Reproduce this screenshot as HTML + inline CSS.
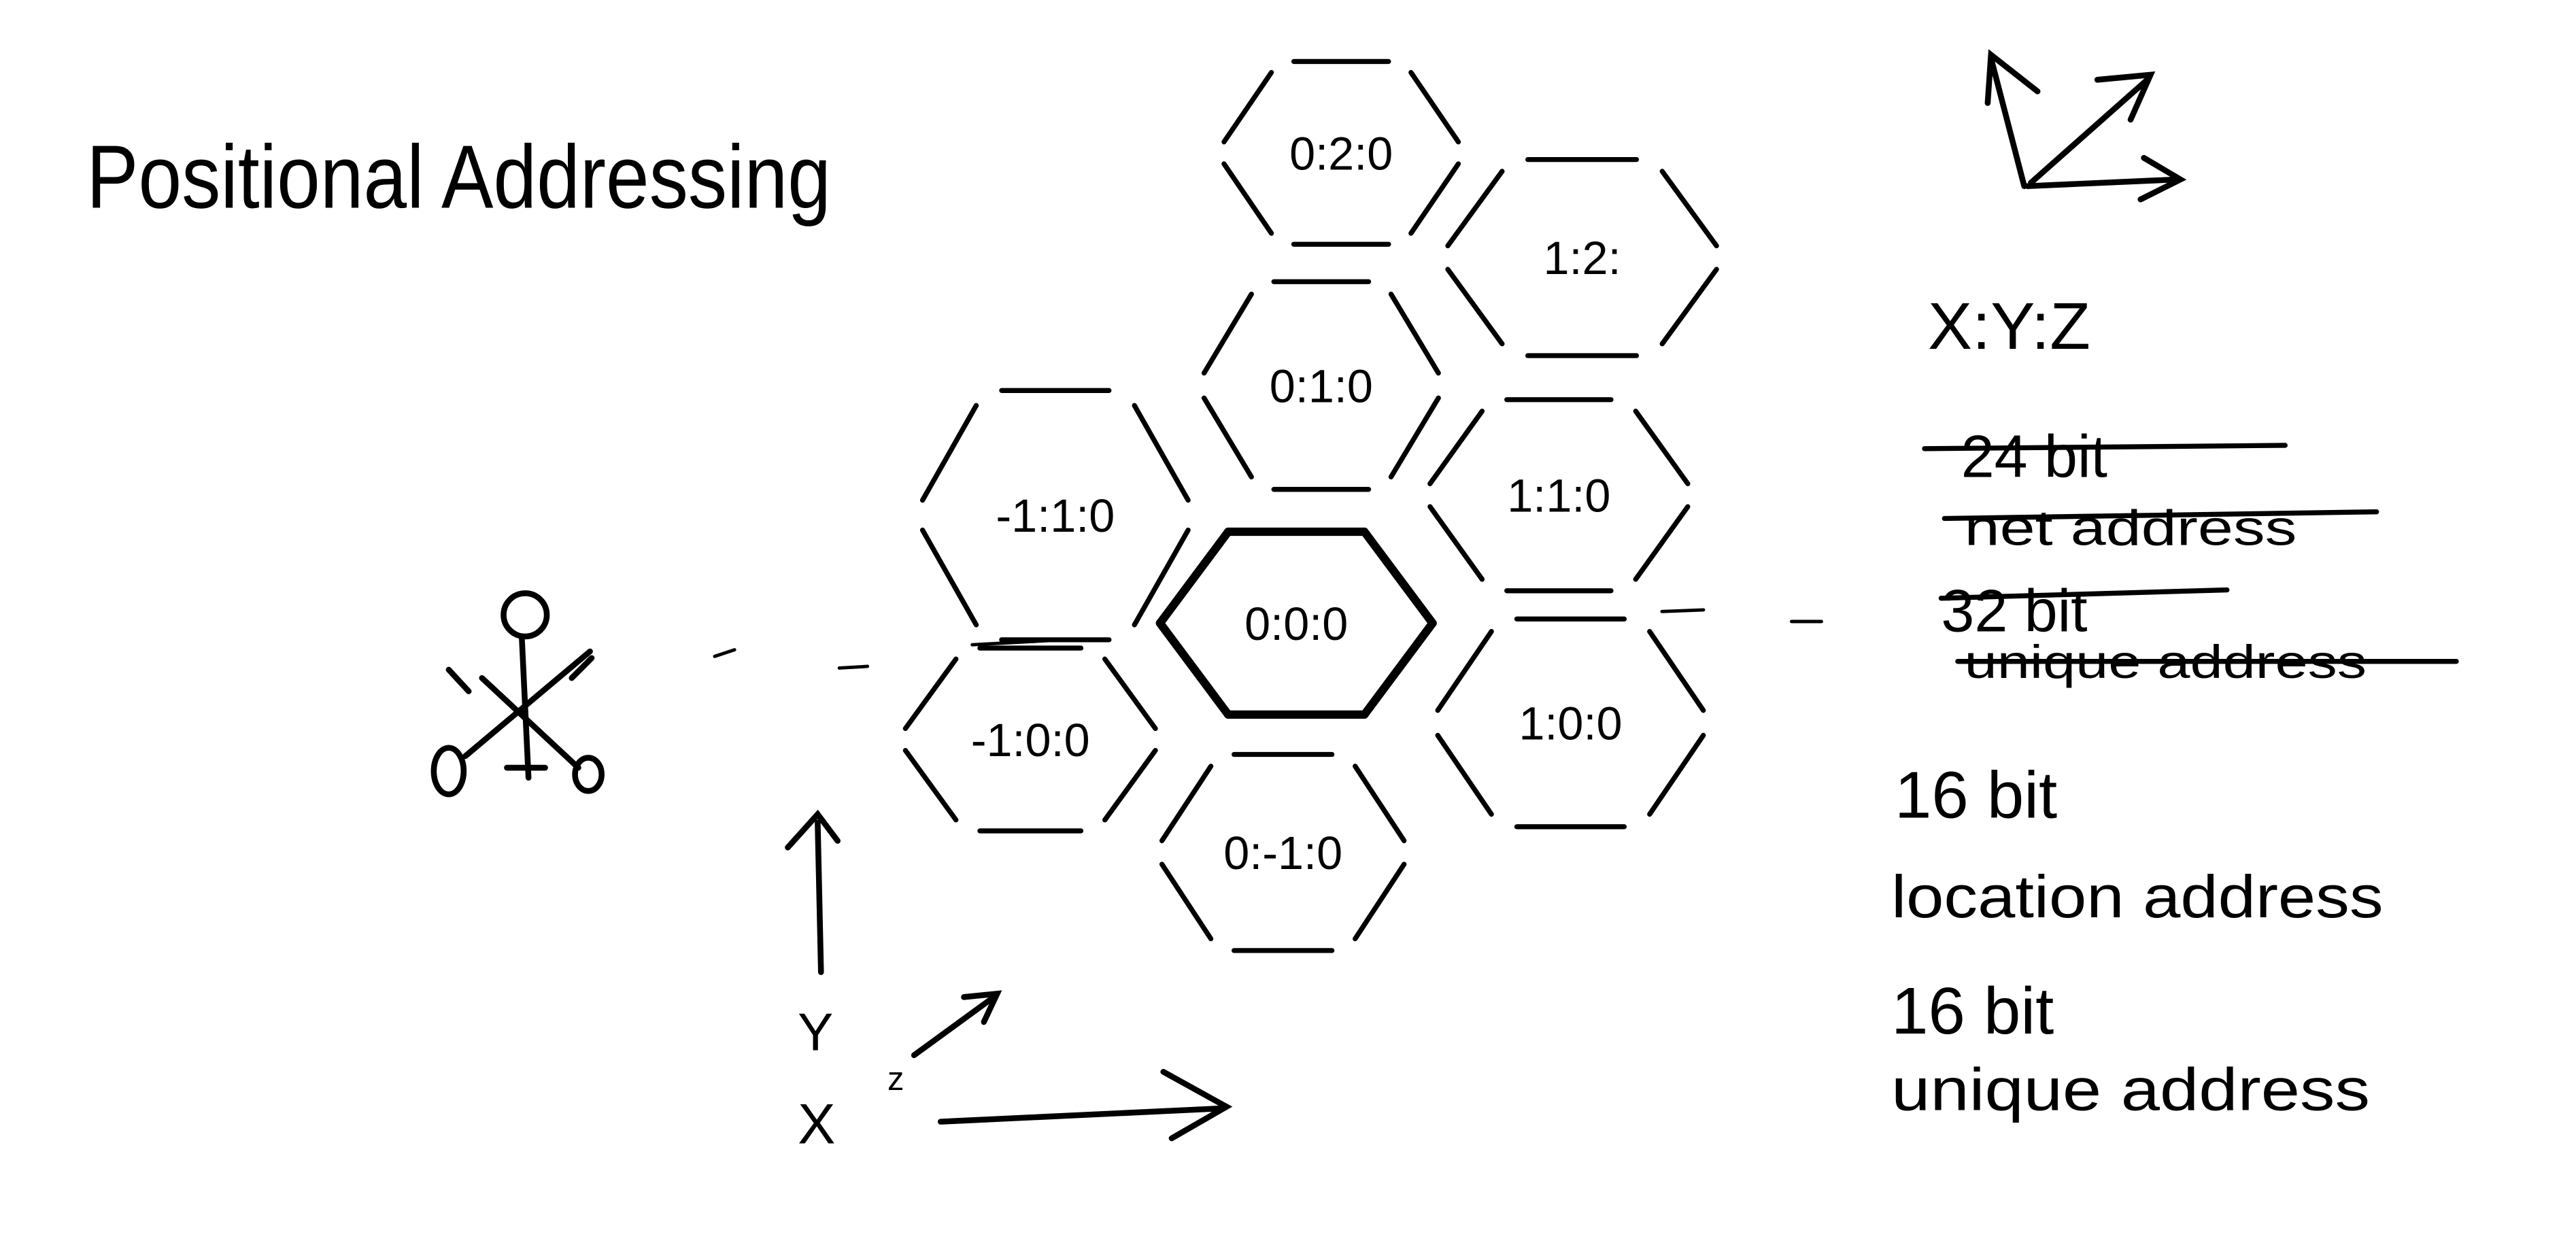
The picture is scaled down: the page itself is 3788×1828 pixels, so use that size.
<!DOCTYPE html>
<html>
<head>
<meta charset="utf-8">
<style>
html,body{margin:0;padding:0;background:#fff;}
svg{display:block;}
text{font-family:"Liberation Sans",sans-serif;fill:#000;}
</style>
</head>
<body>
<svg id="sk" width="3788" height="1828" viewBox="0 0 1550 748" xmlns="http://www.w3.org/2000/svg">
  <rect x="0" y="0" width="1550" height="748" fill="#fff"/>
  <text x="52" y="125" font-size="54" textLength="448" lengthAdjust="spacingAndGlyphs">Positional Addressing</text>

  <g id="hexes" stroke="#000" stroke-width="3" fill="none" stroke-linecap="round"></g>

  <g stroke="#000" stroke-width="2" stroke-linecap="round">
    <line x1="430" y1="395" x2="442" y2="391"/>
    <line x1="505" y1="402" x2="522" y2="401"/>
    <line x1="585" y1="388" x2="640" y2="385"/>
    <line x1="1000" y1="368" x2="1025" y2="367"/>
    <line x1="1078" y1="374" x2="1096" y2="374"/>
  </g>

  <g stroke="#000" stroke-width="3.5" fill="none" stroke-linecap="round">
    <circle cx="316" cy="370" r="13"/>
    <line x1="314" y1="384" x2="318" y2="468"/>
    <line x1="280" y1="455" x2="355" y2="392"/>
    <line x1="290" y1="408" x2="348" y2="462"/>
    <line x1="270" y1="403" x2="282" y2="416"/>
    <line x1="344" y1="408" x2="356" y2="396"/>
    <ellipse cx="270" cy="464" rx="9" ry="14"/>
    <ellipse cx="354" cy="466" rx="8" ry="10"/>
    <line x1="305" y1="462" x2="328" y2="462"/>
  </g>

  <g stroke="#000" stroke-width="3.5" fill="none" stroke-linecap="round">
    <line x1="494" y1="585" x2="492" y2="495"/>
    <polyline points="474,510 492,490 504,506"/>
    <line x1="566" y1="675" x2="735" y2="667"/>
    <polyline points="700,645 738,666 705,685"/>
    <line x1="550" y1="635" x2="598" y2="600"/>
    <polyline points="580,600 600,598 592,615"/>
    <line x1="1218" y1="112" x2="1198" y2="35"/>
    <polyline points="1196,62 1198,33 1226,55"/>
    <line x1="1220" y1="112" x2="1310" y2="108"/>
    <polyline points="1290,95 1312,108 1288,120"/>
    <line x1="1222" y1="110" x2="1292" y2="48"/>
    <polyline points="1262,48 1294,45 1282,72"/>
  </g>
  <text x="480" y="632" font-size="32">Y</text>
  <text x="480" y="688" font-size="34">X</text>
  <text x="534" y="656" font-size="20">z</text>

  <text x="1160" y="210" font-size="40">X:Y:Z</text>
  <g>
    <text x="1180" y="287" font-size="36">24 bit</text>
    <text x="1182" y="328" font-size="30" textLength="200" lengthAdjust="spacingAndGlyphs">net address</text>
    <text x="1168" y="380" font-size="36">32 bit</text>
    <text x="1182" y="408" font-size="28" textLength="242" lengthAdjust="spacingAndGlyphs">unique address</text>
  </g>
  <g stroke="#000" stroke-width="3" stroke-linecap="round">
    <line x1="1158" y1="270" x2="1375" y2="268"/>
    <line x1="1170" y1="312" x2="1430" y2="308"/>
    <line x1="1168" y1="360" x2="1340" y2="355"/>
    <line x1="1178" y1="398" x2="1478" y2="398"/>
  </g>
  <text x="1140" y="492" font-size="40">16  bit</text>
  <text x="1138" y="552" font-size="36" textLength="296" lengthAdjust="spacingAndGlyphs">location address</text>
  <text x="1138" y="622" font-size="40">16  bit</text>
  <text x="1138" y="668" font-size="36" textLength="288" lengthAdjust="spacingAndGlyphs">unique address</text>
</svg>
<script>
const hexLabels = ["0:2:0","1:2:","0:1:0","-1:1:0","1:1:0","0:0:0","-1:0:0","1:0:0","0:-1:0"];
const hexCx = [807, 952, 795, 635, 938, 780, 620, 945, 772];
const hexCy = [92, 155, 232, 310, 298, 375, 445, 435, 513];
const hexW = [150, 172, 150, 170, 165, 164, 160, 170, 155];
const hexH = [110, 118, 125, 150, 115, 110, 110, 125, 118];
const hexBold = [0,0,0,0,0,1,0,0,0];

const NS = "http://www.w3.org/2000/svg";
const g = document.getElementById("hexes");
const svg = document.getElementById("sk");
for (let i = 0; i < hexLabels.length; i++) {
  const cx = hexCx[i], cy = hexCy[i], w = hexW[i], h = hexH[i];
  const pts = [[cx - w/2, cy],[cx - w/4, cy - h/2],[cx + w/4, cy - h/2],[cx + w/2, cy],[cx + w/4, cy + h/2],[cx - w/4, cy + h/2]];
  const grp = document.createElementNS(NS, "g");
  
  
  const gap = hexBold[i] ? 0 : 0.12;
  for (let k = 0; k < 6; k++) {
    const a = pts[k], b = pts[(k + 1) % 6];
    const ln = document.createElementNS(NS, "line");
    ln.setAttribute("x1", a[0] + (b[0] - a[0]) * gap);
    ln.setAttribute("y1", a[1] + (b[1] - a[1]) * gap);
    ln.setAttribute("x2", b[0] - (b[0] - a[0]) * gap);
    ln.setAttribute("y2", b[1] - (b[1] - a[1]) * gap);
    if (hexBold[i]) ln.setAttribute("stroke-width", "5");
    
    
    grp.appendChild(ln);
  }
  g.appendChild(grp);
  const t = document.createElementNS(NS, "text");
  t.setAttribute("x", cx);
  t.setAttribute("y", cy + 10);
  t.setAttribute("text-anchor", "middle");
  t.setAttribute("font-size", "28");
  t.textContent = hexLabels[i];
  
  
  svg.appendChild(t);
}
</script>
</body>
</html>
